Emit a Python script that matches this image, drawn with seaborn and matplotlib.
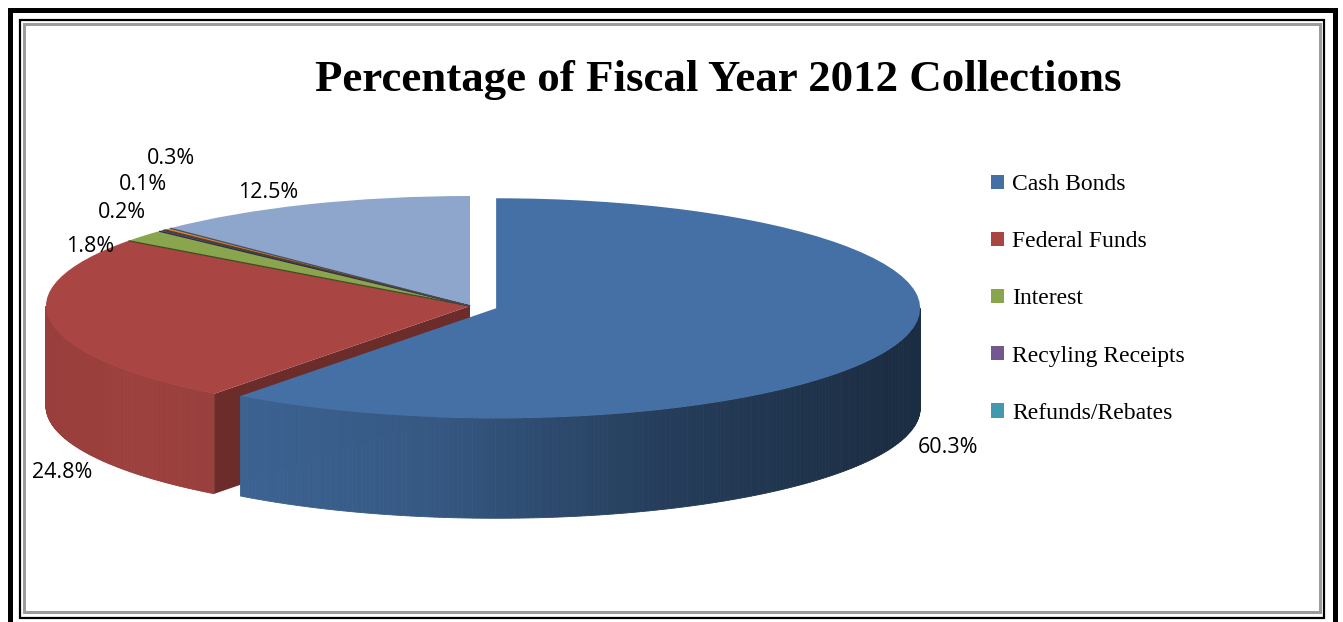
import numpy as np
import matplotlib
matplotlib.use("Agg")
import matplotlib.pyplot as plt
from matplotlib.patches import Polygon, Rectangle, Patch
from matplotlib.colors import to_rgb
import seaborn as sns

# ---- data -------------------------------------------------------------
categories = ["Cash Bonds", "Federal Funds", "Interest",
              "Recyling Receipts", "Refunds/Rebates"]
shares = [60.3, 24.8, 1.8, 0.2, 0.1, 0.3, 12.5]
title = "Percentage of Fiscal Year 2012 Collections"

# ---- style ------------------------------------------------------------
palette = sns.color_palette(["#4470A6", "#A94542", "#89A54E", "#71588F",
                             "#4198AF", "#DB843D", "#8FA6CC"])
W, H = 1343, 622
CX, CY = 470, 306          # pie centre (pixels)
RX, RY = 424, 110          # ellipse radii (pixels)
DEPTH = 100                # height of the pie walls (pixels)
EXPLODE = [0.065, 0, 0, 0, 0, 0, 0]
# label placement relative to the rim point of each slice (pixels)
label_nudge = [(50, 104), (12, 151), (-53, 11), (-39, -18),
               (-21, -45), (4, -70), (-40, -12)]

sns.set_theme(style="white")
plt.rcParams["text.color"] = "black"
fig = plt.figure(figsize=(W / 100, H / 100), dpi=100, facecolor="white")
ax = fig.add_axes([0, 0, 1, 1])


def shade(color, f):
    r, g, b = to_rgb(color)
    return (r * f, g * f, b * f)


# angles measured clockwise from 12 o'clock
frac = np.array(shares) / np.sum(shares)
edges = np.concatenate([[0], np.cumsum(frac) * 360.0])
mids = (edges[:-1] + edges[1:]) / 2
d = DEPTH / RY


def offset(i):
    m = np.radians(mids[i])
    return EXPLODE[i] * np.sin(m), EXPLODE[i] * np.cos(m)


# ---- top faces through the pie machinery ------------------------------
wedges, _ = ax.pie(shares, colors=palette, startangle=90, counterclock=False,
                   explode=EXPLODE, radius=1.0, center=(0, 0),
                   wedgeprops=dict(linewidth=0))
for i, w in enumerate(wedges):
    w.set_zorder(4 if EXPLODE[i] > 0 else 2)


# ---- outer walls (front half only) ------------------------------------
def draw_wall(i, zorder, shade_fn):
    a, b = edges[i], edges[i + 1]
    lo, hi = max(a, 90.0), min(b, 270.0)
    if hi <= lo:
        return
    ox, oy = offset(i)
    ts = np.radians(np.linspace(lo, hi, 200))
    for t0, t1 in zip(ts[:-1], ts[1:]):
        x0, y0 = np.sin(t0) + ox, np.cos(t0) + oy
        x1, y1 = np.sin(t1) + ox, np.cos(t1) + oy
        c = shade_fn((x0 + x1) / 2)
        ax.add_patch(Polygon([(x0, y0), (x1, y1), (x1, y1 - d), (x0, y0 - d)],
                             closed=True, facecolor=c, edgecolor=c,
                             linewidth=0.6, zorder=zorder))


# cash bonds wall: light on the left, dark on the right
draw_wall(0, 3, lambda x: shade(palette[0], float(np.interp(x, [-0.62, -0.1, 0.45, 1.0],
                                                            [0.90, 0.79, 0.55, 0.40]))))
# federal funds wall
draw_wall(1, 1, lambda x: shade(palette[1], float(np.interp(x, [-1.0, -0.8, -0.6],
                                                            [0.90, 0.93, 0.90]))))

# cut face of federal funds left open by the exploded slice
t = np.radians(edges[1])
rim = (np.sin(t), np.cos(t))
ax.add_patch(Polygon([(0, 0), rim, (rim[0], rim[1] - d), (0, -d)], closed=True,
                     facecolor=shade(palette[1], 0.64), edgecolor="none", zorder=1))

# thin dark seams between the small slices
for k in range(2, len(shares)):
    t = np.radians(edges[k])
    ax.plot([0, np.sin(t)], [0, np.cos(t)], color=shade(palette[k], 0.45),
            linewidth=0.9, zorder=2.5, solid_capstyle="butt")

# ---- value labels -----------------------------------------------------
for i, v in enumerate(shares):
    m = np.radians(mids[i])
    ox, oy = offset(i)
    x = np.sin(m) + ox + label_nudge[i][0] / RX
    y = np.cos(m) + oy - label_nudge[i][1] / RY
    ax.text(x, y, f"{v:.1f}%", ha="center", va="center", fontsize=15.5,
            family="Open Sans", color="black", zorder=6)

ax.set_aspect("auto")
ax.set_xlim(-CX / RX, (W - CX) / RX)
ax.set_ylim((CY - H) / RY, CY / RY)
ax.axis("off")

# ---- title ------------------------------------------------------------
fig.text(718 / W, 1 - 91 / H, title, ha="center", va="baseline",
         fontsize=32.3, fontweight="bold", family="Liberation Serif",
         color="black")

# ---- legend -----------------------------------------------------------
handles = [Patch(facecolor=palette[i], edgecolor="none") for i in range(len(categories))]
ax.legend(handles, categories, loc="center left",
          bbox_to_anchor=(991 / W, 1 - 299 / H), bbox_transform=fig.transFigure,
          frameon=False, prop=dict(family="Liberation Serif", size=17),
          labelcolor="black",
          labelspacing=1.53, handlelength=0.55, handleheight=0.55,
          handletextpad=0.35, borderpad=0, borderaxespad=0)

# ---- frame lines ------------------------------------------------------
def frame(x0, y0, x1, y1, width_px, color):
    fig.add_artist(Rectangle((x0 / W, 1 - y1 / H), (x1 - x0) / W, (y1 - y0) / H,
                             transform=fig.transFigure, fill=False,
                             edgecolor=color, linewidth=width_px * 0.72,
                             joinstyle="miter"))


frame(9.5, 9.5, 1335, 650, 5, "black")
frame(20, 20, 1324, 618, 2.2, "black")
frame(23.5, 23.5, 1320, 611.5, 3, "#9c9c9c")

fig.savefig("out.png", dpi=100, facecolor="white")
